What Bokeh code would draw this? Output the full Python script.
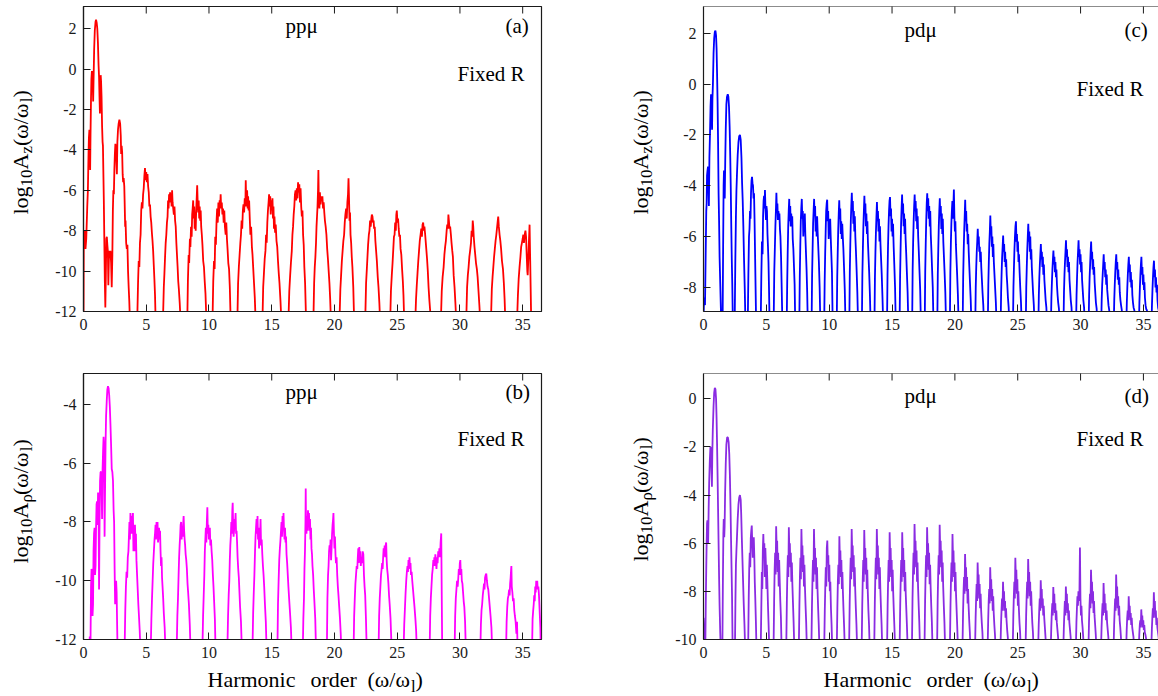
import math
from bokeh.plotting import figure
from bokeh.models import Range1d, FixedTicker, Label, Span, CustomJSTickFormatter
from bokeh.layouts import column, row
from bokeh.embed import file_html
from bokeh.resources import INLINE

# ---------------- data ----------------
X_TICKS = [0, 5, 10, 15, 20, 25, 30, 35]
Y_TICKS_A = [2, 0, -2, -4, -6, -8, -10, -12]
Y_TICKS_B = [-4, -6, -8, -10, -12]
Y_TICKS_C = [2, 0, -2, -4, -6, -8]
Y_TICKS_D = [0, -2, -4, -6, -8, -10]

# (a) pp-mu, log10 A_z
pp_Az = [
    (0.00, -12.5), (0.02, -8.2), (0.1, -8.0), (0.16, -8.9), (0.22, -8.4), (0.3, -6.8), (0.35, -6.0), (0.4, -4.2),
    (0.43, -3.4), (0.47, -3.0), (0.5, -3.6), (0.53, -5.0), (0.56, -3.2), (0.6, -1.4), (0.63, -0.5), (0.67, -0.1),
    (0.7, -0.3), (0.74, -0.8), (0.77, -1.6), (0.8, -0.6), (0.85, 1.0), (0.9, 1.9), (0.96, 2.35), (1.0, 2.45),
    (1.05, 2.3), (1.1, 2.0), (1.15, 1.3), (1.2, 0.2), (1.24, -0.4), (1.28, -1.5), (1.31, -2.2), (1.34, -0.8),
    (1.37, -0.3), (1.4, -0.6), (1.44, -1.4), (1.48, -2.8), (1.52, -3.6), (1.55, -3.8), (1.58, -5.0), (1.62, -6.5),
    (1.66, -8.5), (1.7, -10.5), (1.74, -11.8), (1.78, -10.2), (1.82, -8.4), (1.86, -8.3), (1.9, -8.7), (1.94, -9.0),
    (1.98, -10.7), (2.02, -9.5), (2.06, -9.0), (2.1, -9.2), (2.15, -9.0), (2.2, -9.6), (2.25, -10.8), (2.3, -9.2),
    (2.34, -7.0), (2.38, -6.0), (2.42, -6.2), (2.46, -5.0), (2.5, -4.2), (2.54, -3.7), (2.58, -3.9), (2.62, -4.4),
    (2.66, -5.2), (2.7, -3.6), (2.75, -3.0), (2.8, -2.7), (2.86, -2.5), (2.92, -2.7), (2.97, -3.3), (3.0, -4.2),
    (3.04, -3.8), (3.08, -4.1), (3.12, -5.2), (3.16, -5.6), (3.2, -5.4), (3.25, -5.8), (3.28, -6.6), (3.32, -7.8),
    (3.35, -7.5), (3.4, -8.6), (3.45, -8.9), (3.5, -8.7), (3.55, -10.0), (3.6, -10.8), (3.65, -11.5), (3.7, -12.5),
    (4.0, -13.0), (4.25, -13.0),
    (4.28, -12.5), (4.35, -10.5), (4.4, -9.5), (4.45, -9.8), (4.5, -8.6), (4.55, -8.2), (4.6, -7.0), (4.65, -6.6),
    (4.7, -6.9), (4.75, -6.2), (4.8, -5.9), (4.85, -5.3), (4.9, -4.9), (4.95, -5.5), (5.0, -5.1), (5.05, -5.6),
    (5.1, -5.2), (5.15, -5.8), (5.2, -6.1), (5.25, -6.8), (5.3, -6.7), (5.35, -7.3), (5.4, -7.6), (5.45, -8.1),
    (5.5, -8.5), (5.55, -9.0), (5.6, -9.7), (5.65, -10.4), (5.7, -11.2), (5.75, -12.5), (6.0, -13.0), (6.3, -13.0),
    (6.33, -12.5), (6.4, -10.8), (6.45, -10.1), (6.5, -9.3), (6.55, -8.6), (6.6, -8.2), (6.65, -7.6), (6.7, -7.3),
    (6.74, -6.5), (6.78, -6.9), (6.82, -6.2), (6.86, -6.6), (6.9, -6.1), (6.94, -6.5), (6.98, -6.2), (7.02, -6.8),
    (7.06, -6.0), (7.1, -6.6), (7.15, -6.9), (7.2, -7.2), (7.25, -6.8), (7.3, -7.5), (7.35, -7.8), (7.4, -8.6),
    (7.45, -9.2), (7.5, -9.8), (7.55, -10.5), (7.6, -10.9), (7.67, -11.6), (7.74, -12.5), (8.0, -13.0), (8.25, -13.0),
    (8.27, -12.5), (8.32, -10.5), (8.38, -9.2), (8.42, -9.6), (8.48, -8.4), (8.52, -8.8), (8.57, -7.8), (8.62, -8.3),
    (8.66, -7.2), (8.7, -6.9), (8.74, -6.5), (8.78, -7.4), (8.82, -6.8), (8.86, -7.9), (8.9, -7.2), (8.94, -8.0),
    (8.98, -7.0), (9.02, -6.4), (9.06, -5.75), (9.1, -6.6), (9.14, -7.1), (9.18, -6.5), (9.22, -7.4), (9.26, -6.8),
    (9.3, -7.5), (9.34, -7.0), (9.38, -7.8), (9.43, -8.2), (9.48, -8.7), (9.54, -9.5), (9.6, -9.8), (9.66, -10.5),
    (9.72, -11.1), (9.8, -12.5), (10.0, -13.0), (10.25, -13.0),
    (10.28, -12.5), (10.34, -10.5), (10.4, -9.5), (10.45, -9.9), (10.5, -8.3), (10.55, -8.7), (10.6, -7.6),
    (10.65, -6.9), (10.7, -7.6), (10.75, -6.6), (10.8, -7.3), (10.85, -6.5), (10.9, -6.7), (10.93, -6.2),
    (10.97, -6.9), (11.02, -6.6), (11.07, -7.2), (11.12, -6.9), (11.17, -7.6), (11.22, -7.0), (11.27, -7.8),
    (11.33, -8.2), (11.38, -7.6), (11.43, -8.4), (11.48, -8.9), (11.54, -9.6), (11.6, -9.9), (11.66, -10.8),
    (11.73, -12.5), (12.0, -13.0), (12.24, -13.0),
    (12.26, -12.5), (12.32, -10.6), (12.38, -9.8), (12.44, -9.2), (12.5, -8.6), (12.55, -8.2), (12.6, -7.5),
    (12.65, -7.9), (12.7, -7.0), (12.75, -6.7), (12.8, -7.1), (12.85, -6.4), (12.9, -6.8), (12.93, -5.5),
    (12.96, -6.4), (13.0, -6.8), (13.04, -6.0), (13.08, -6.9), (13.12, -6.3), (13.16, -7.0), (13.2, -6.5),
    (13.25, -7.4), (13.3, -8.2), (13.36, -7.8), (13.42, -8.8), (13.47, -9.2), (13.53, -9.9), (13.59, -10.6),
    (13.65, -11.3), (13.72, -12.5), (14.0, -13.0), (14.24, -13.0),
    (14.26, -12.5), (14.32, -10.8), (14.38, -10.1), (14.44, -9.4), (14.5, -9.0), (14.55, -8.2), (14.6, -8.6),
    (14.65, -7.6), (14.7, -7.0), (14.75, -6.6), (14.79, -6.2), (14.83, -6.8), (14.88, -6.3), (14.92, -7.2),
    (14.97, -6.5), (15.02, -7.0), (15.06, -6.4), (15.1, -7.4), (15.14, -6.8), (15.18, -7.9), (15.22, -7.3),
    (15.27, -8.1), (15.32, -7.7), (15.38, -8.5), (15.44, -8.8), (15.5, -9.5), (15.56, -10.1), (15.62, -10.6),
    (15.7, -11.5), (15.77, -12.5), (16.0, -13.0), (16.3, -13.0),
    (16.33, -12.5), (16.4, -11.0), (16.47, -10.2), (16.53, -9.6), (16.6, -9.0), (16.65, -8.2), (16.7, -7.8),
    (16.75, -7.2), (16.8, -6.8), (16.85, -6.2), (16.9, -6.0), (16.95, -6.5), (17.0, -5.9), (17.05, -6.4),
    (17.1, -5.6), (17.15, -6.1), (17.2, -5.7), (17.25, -6.6), (17.3, -5.9), (17.35, -6.8), (17.4, -7.3),
    (17.45, -7.0), (17.5, -8.2), (17.55, -8.7), (17.6, -9.8), (17.66, -10.6), (17.74, -12.5), (18.0, -13.0),
    (18.3, -13.0),
    (18.32, -12.5), (18.38, -10.6), (18.43, -9.8), (18.48, -9.3), (18.53, -8.6), (18.57, -7.8), (18.61, -7.3),
    (18.65, -6.8), (18.69, -6.0), (18.72, -5.0), (18.75, -6.4), (18.8, -6.9), (18.84, -6.1), (18.89, -6.7),
    (18.94, -6.3), (18.99, -6.5), (19.04, -6.3), (19.09, -6.9), (19.14, -6.6), (19.19, -7.1), (19.24, -7.5),
    (19.3, -7.8), (19.36, -8.2), (19.42, -8.9), (19.48, -9.4), (19.54, -10.0), (19.6, -10.6), (19.66, -11.4),
    (19.72, -12.5), (20.0, -13.0), (20.38, -13.0),
    (20.4, -12.5), (20.47, -10.9), (20.53, -10.2), (20.59, -9.5), (20.65, -9.0), (20.71, -8.5), (20.77, -8.2),
    (20.82, -7.6), (20.87, -7.2), (20.93, -6.9), (20.98, -7.4), (21.03, -6.6), (21.08, -6.2), (21.12, -5.4),
    (21.16, -6.4), (21.2, -7.5), (21.24, -7.1), (21.28, -8.2), (21.33, -8.6), (21.38, -9.3), (21.43, -9.8),
    (21.5, -10.8), (21.57, -12.5), (22.0, -13.0), (22.43, -13.0),
    (22.45, -12.5), (22.52, -10.6), (22.58, -9.9), (22.63, -9.3), (22.68, -8.7), (22.74, -8.2), (22.79, -8.0),
    (22.84, -7.5), (22.89, -7.8), (22.94, -7.4), (22.98, -7.2), (23.03, -7.3), (23.08, -7.6), (23.12, -7.5),
    (23.16, -7.9), (23.21, -7.8), (23.26, -8.5), (23.32, -9.0), (23.38, -9.5), (23.45, -10.3), (23.51, -10.8),
    (23.58, -11.6), (23.64, -12.5), (24.0, -13.0), (24.42, -13.0),
    (24.44, -12.5), (24.5, -11.0), (24.57, -10.2), (24.63, -9.6), (24.69, -8.9), (24.74, -8.3), (24.79, -8.2),
    (24.84, -7.6), (24.89, -8.0), (24.93, -7.2), (24.97, -7.0), (25.02, -7.6), (25.07, -7.4), (25.12, -7.9),
    (25.17, -8.3), (25.22, -8.2), (25.27, -8.9), (25.33, -9.2), (25.39, -9.9), (25.45, -10.5), (25.5, -11.2),
    (25.56, -12.5), (26.0, -13.0), (26.42, -13.0),
    (26.44, -12.5), (26.5, -11.4), (26.56, -10.7), (26.62, -10.1), (26.68, -9.5), (26.74, -9.0), (26.8, -8.5),
    (26.86, -8.2), (26.92, -7.9), (26.97, -8.3), (27.02, -7.7), (27.07, -7.6), (27.12, -8.0), (27.17, -7.8),
    (27.23, -8.2), (27.28, -8.6), (27.33, -9.0), (27.38, -9.4), (27.44, -10.0), (27.5, -10.8), (27.56, -11.4),
    (27.62, -11.9), (27.69, -12.5), (28.0, -13.0), (28.46, -13.0),
    (28.48, -12.5), (28.55, -11.0), (28.62, -10.3), (28.7, -9.8), (28.76, -9.2), (28.82, -8.8), (28.88, -8.5),
    (28.94, -8.0), (28.99, -7.7), (29.04, -7.9), (29.08, -7.2), (29.12, -7.5), (29.17, -7.9), (29.22, -7.8),
    (29.28, -8.2), (29.33, -8.6), (29.39, -9.0), (29.44, -9.3), (29.5, -10.2), (29.57, -10.8), (29.64, -11.6),
    (29.71, -12.5), (30.0, -13.0), (30.48, -13.0),
    (30.5, -12.5), (30.57, -10.8), (30.63, -10.2), (30.69, -9.8), (30.75, -9.3), (30.81, -9.0), (30.88, -8.6),
    (30.93, -8.0), (30.98, -8.3), (31.02, -7.5), (31.06, -7.8), (31.1, -8.3), (31.16, -8.8), (31.22, -9.2),
    (31.28, -9.6), (31.35, -9.9), (31.41, -10.3), (31.48, -11.0), (31.55, -11.7), (31.62, -12.5), (32.0, -13.0),
    (32.45, -13.0),
    (32.47, -12.5), (32.54, -10.9), (32.6, -10.3), (32.66, -9.8), (32.72, -9.3), (32.78, -8.9), (32.84, -8.5),
    (32.9, -8.2), (32.95, -7.9), (33.0, -7.6), (33.05, -7.3), (33.1, -7.8), (33.16, -8.2), (33.22, -8.5),
    (33.28, -8.9), (33.35, -9.5), (33.43, -9.9), (33.5, -10.6), (33.56, -11.4), (33.62, -12.5), (34.0, -13.0),
    (34.53, -13.0),
    (34.55, -12.5), (34.62, -11.2), (34.68, -10.4), (34.75, -9.8), (34.82, -9.3), (34.88, -8.8), (34.94, -8.6),
    (35.0, -8.4), (35.05, -8.2), (35.1, -8.6), (35.16, -8.2), (35.22, -8.0), (35.27, -8.3), (35.32, -9.2),
    (35.37, -10.0), (35.4, -10.2), (35.45, -9.4), (35.5, -8.5), (35.55, -7.7), (35.6, -9.5), (35.64, -11.0),
    (35.68, -12.5), (36.0, -13.0), (36.5, -13.0),
]

# (b) pp-mu, log10 A_rho
pp_Arho = [
    (0.0, -13.0), (0.4, -13.0), (0.5, -11.9), (0.55, -12.5), (0.6, -10.2), (0.64, -9.6), (0.68, -9.7),
    (0.72, -11.2), (0.76, -10.8), (0.8, -9.0), (0.84, -8.4), (0.88, -8.2), (0.92, -9.8), (0.96, -9.5),
    (1.0, -8.2), (1.04, -7.4), (1.08, -7.3), (1.12, -8.1), (1.16, -7.0), (1.2, -7.4), (1.24, -10.3),
    (1.28, -8.0), (1.32, -6.6), (1.36, -6.3), (1.4, -6.3), (1.44, -6.8), (1.48, -7.9), (1.52, -6.2),
    (1.56, -5.6), (1.6, -5.1), (1.64, -5.5), (1.68, -8.5), (1.72, -6.8), (1.76, -5.3), (1.8, -4.4),
    (1.85, -3.9), (1.9, -3.5), (1.95, -3.38), (2.0, -3.45), (2.05, -3.7), (2.1, -4.1), (2.15, -4.7),
    (2.2, -5.4), (2.25, -6.2), (2.3, -6.3), (2.35, -6.6), (2.4, -7.6), (2.44, -8.0), (2.48, -9.6),
    (2.52, -10.8), (2.56, -10.6), (2.6, -10.0), (2.64, -10.4), (2.68, -11.5), (2.72, -12.5), (3.0, -13.0),
    (3.25, -13.0),
    (3.27, -12.5), (3.33, -11.0), (3.38, -10.2), (3.43, -9.7), (3.48, -9.9), (3.53, -9.2), (3.58, -9.0),
    (3.62, -8.5), (3.66, -8.0), (3.7, -8.6), (3.74, -7.7), (3.78, -7.9), (3.82, -8.4), (3.86, -7.8),
    (3.9, -8.2), (3.94, -7.7), (3.98, -9.0), (4.02, -8.4), (4.06, -9.0), (4.1, -8.1), (4.14, -8.6),
    (4.18, -8.4), (4.22, -9.3), (4.27, -9.8), (4.32, -10.3), (4.37, -10.8), (4.42, -11.2), (4.48, -11.7),
    (4.55, -12.5), (5.0, -13.0), (5.33, -13.0),
    (5.35, -12.5), (5.41, -11.3), (5.46, -10.6), (5.51, -10.0), (5.56, -9.4), (5.61, -9.0), (5.66, -8.6),
    (5.7, -8.4), (5.74, -8.1), (5.78, -8.6), (5.82, -8.0), (5.86, -8.5), (5.9, -8.0), (5.94, -8.7),
    (5.98, -8.5), (6.02, -8.2), (6.06, -8.6), (6.1, -8.3), (6.14, -9.0), (6.18, -9.5), (6.22, -9.2),
    (6.26, -9.9), (6.3, -10.2), (6.35, -10.6), (6.4, -11.1), (6.47, -11.6), (6.54, -12.5), (7.0, -13.0),
    (7.4, -13.0),
    (7.42, -12.5), (7.48, -11.2), (7.53, -10.6), (7.58, -9.8), (7.62, -9.2), (7.66, -8.8), (7.7, -8.5),
    (7.74, -8.1), (7.78, -8.0), (7.82, -8.6), (7.86, -8.2), (7.9, -8.5), (7.94, -8.1), (7.98, -7.8),
    (8.02, -8.3), (8.06, -8.6), (8.1, -8.8), (8.14, -9.1), (8.19, -9.3), (8.24, -9.6), (8.29, -10.1),
    (8.34, -10.4), (8.4, -10.8), (8.47, -11.5), (8.54, -12.5), (9.0, -13.0), (9.45, -13.0),
    (9.47, -12.5), (9.53, -11.2), (9.58, -10.5), (9.63, -9.8), (9.67, -9.0), (9.71, -8.6), (9.75, -8.2),
    (9.79, -8.7), (9.83, -8.0), (9.87, -7.5), (9.91, -8.4), (9.95, -8.1), (9.99, -8.6), (10.03, -8.3),
    (10.07, -8.2), (10.11, -8.8), (10.16, -8.6), (10.21, -9.0), (10.26, -9.3), (10.31, -9.8), (10.36, -10.2),
    (10.41, -10.7), (10.47, -11.3), (10.53, -12.5), (11.0, -13.0), (11.44, -13.0),
    (11.46, -12.5), (11.52, -11.2), (11.57, -10.5), (11.62, -10.0), (11.66, -9.3), (11.7, -8.8), (11.74, -8.5),
    (11.78, -8.0), (11.82, -8.4), (11.86, -7.6), (11.89, -7.35), (11.92, -8.0), (11.96, -8.5), (12.0, -8.3),
    (12.04, -7.9), (12.08, -8.1), (12.12, -7.7), (12.16, -8.4), (12.2, -8.3), (12.24, -8.7), (12.28, -9.2),
    (12.33, -9.6), (12.38, -9.9), (12.43, -10.4), (12.48, -10.9), (12.55, -11.4), (12.63, -12.5), (13.0, -13.0),
    (13.44, -13.0),
    (13.46, -12.5), (13.52, -11.1), (13.57, -10.4), (13.62, -9.8), (13.67, -9.0), (13.71, -8.5), (13.75, -8.2),
    (13.79, -7.9), (13.83, -8.4), (13.87, -7.8), (13.91, -8.6), (13.95, -8.3), (13.99, -8.9), (14.03, -8.2),
    (14.07, -8.5), (14.11, -7.9), (14.15, -8.8), (14.2, -8.6), (14.25, -9.1), (14.3, -9.5), (14.35, -9.8),
    (14.4, -10.2), (14.46, -10.8), (14.53, -11.4), (14.6, -12.5), (15.0, -13.0), (15.43, -13.0),
    (15.45, -12.5), (15.5, -10.8), (15.55, -10.0), (15.6, -9.3), (15.65, -8.9), (15.7, -8.6), (15.74, -8.3),
    (15.78, -8.0), (15.82, -8.5), (15.86, -7.8), (15.9, -8.2), (15.94, -7.7), (15.98, -8.3), (16.02, -8.6),
    (16.06, -8.2), (16.1, -8.7), (16.14, -8.5), (16.18, -9.1), (16.23, -9.4), (16.28, -9.8), (16.33, -10.2),
    (16.4, -10.7), (16.46, -11.1), (16.53, -11.6), (16.6, -12.5), (17.0, -13.0), (17.45, -13.0),
    (17.47, -12.5), (17.52, -11.3), (17.57, -10.6), (17.61, -9.6), (17.65, -9.0), (17.69, -8.0), (17.71, -6.86),
    (17.73, -7.9), (17.77, -8.4), (17.81, -7.8), (17.85, -8.3), (17.89, -7.6), (17.93, -8.0), (17.97, -7.7),
    (18.01, -8.3), (18.05, -7.9), (18.09, -8.6), (18.13, -8.2), (18.17, -8.9), (18.21, -9.1), (18.25, -9.5),
    (18.3, -9.8), (18.35, -10.3), (18.4, -10.7), (18.47, -11.3), (18.54, -12.5), (19.0, -13.0), (19.37, -13.0),
    (19.39, -12.5), (19.44, -10.6), (19.49, -9.8), (19.53, -9.5), (19.57, -9.0), (19.61, -8.8), (19.65, -9.0),
    (19.69, -8.6), (19.73, -9.3), (19.77, -8.9), (19.81, -8.4), (19.85, -8.1), (19.89, -7.9), (19.92, -7.7),
    (19.96, -8.4), (20.0, -8.9), (20.04, -8.5), (20.08, -9.1), (20.12, -9.4), (20.17, -9.2), (20.22, -9.8),
    (20.27, -10.2), (20.32, -10.5), (20.38, -10.9), (20.44, -11.3), (20.5, -11.8), (20.56, -12.5), (21.0, -13.0),
    (21.5, -13.0),
    (21.52, -12.5), (21.57, -11.2), (21.62, -10.6), (21.67, -10.1), (21.72, -9.8), (21.77, -9.5), (21.82, -9.6),
    (21.86, -9.2), (21.9, -8.9), (21.94, -9.4), (21.98, -8.85), (22.02, -9.3), (22.06, -9.0), (22.1, -9.5),
    (22.15, -9.2), (22.2, -9.4), (22.25, -9.0), (22.3, -9.1), (22.35, -9.8), (22.4, -10.2), (22.45, -10.5),
    (22.51, -11.3), (22.58, -12.5), (23.0, -13.0), (23.49, -13.0),
    (23.51, -12.5), (23.56, -11.2), (23.61, -10.6), (23.66, -10.2), (23.71, -9.8), (23.76, -9.6), (23.8, -9.4),
    (23.84, -9.6), (23.88, -9.2), (23.92, -8.9), (23.96, -9.1), (24.0, -8.8), (24.04, -9.2), (24.08, -8.8),
    (24.12, -8.7), (24.16, -9.3), (24.2, -9.6), (24.25, -9.8), (24.3, -10.1), (24.35, -10.5), (24.4, -10.8),
    (24.47, -11.3), (24.57, -12.5), (25.0, -13.0), (25.48, -13.0),
    (25.5, -12.5), (25.56, -11.5), (25.62, -10.9), (25.67, -10.4), (25.72, -10.0), (25.77, -9.7), (25.82, -9.5),
    (25.86, -9.7), (25.9, -9.3), (25.94, -9.5), (25.98, -9.2), (26.02, -9.6), (26.06, -9.4), (26.1, -9.8),
    (26.15, -9.7), (26.2, -10.0), (26.26, -10.3), (26.32, -10.6), (26.38, -10.9), (26.45, -11.3), (26.51, -11.7),
    (26.57, -12.5), (27.0, -13.0), (27.56, -13.0),
    (27.58, -12.5), (27.63, -11.2), (27.68, -10.6), (27.73, -10.2), (27.78, -9.8), (27.83, -9.6), (27.88, -9.3),
    (27.92, -9.5), (27.96, -9.2), (28.0, -9.5), (28.04, -9.1), (28.08, -9.3), (28.13, -9.6), (28.18, -9.2),
    (28.22, -9.4), (28.27, -9.0), (28.32, -9.2), (28.36, -8.9), (28.41, -9.2), (28.46, -8.7), (28.51, -8.39),
    (28.55, -10.5), (28.59, -12.5), (29.0, -13.0), (29.55, -13.0),
    (29.57, -12.5), (29.62, -11.2), (29.67, -10.6), (29.72, -10.3), (29.77, -10.0), (29.82, -10.2), (29.87, -9.9),
    (29.91, -9.6), (29.95, -9.8), (29.99, -9.4), (30.03, -9.3), (30.07, -9.8), (30.11, -9.6), (30.15, -10.0),
    (30.2, -10.1), (30.25, -10.4), (30.3, -10.7), (30.35, -10.9), (30.41, -11.4), (30.48, -12.5), (31.0, -13.0),
    (31.6, -13.0),
    (31.62, -12.5), (31.67, -11.5), (31.72, -11.0), (31.77, -10.8), (31.82, -10.5), (31.87, -10.3), (31.92, -10.1),
    (31.96, -10.3), (32.0, -9.9), (32.05, -9.8), (32.1, -9.76), (32.15, -10.0), (32.2, -10.2), (32.26, -10.3),
    (32.32, -10.6), (32.38, -10.9), (32.44, -11.2), (32.51, -11.6), (32.58, -12.5), (33.0, -13.0), (33.65, -13.0),
    (33.67, -12.5), (33.72, -11.4), (33.77, -10.9), (33.82, -10.6), (33.87, -10.5), (33.92, -10.3), (33.96, -10.5),
    (34.0, -10.1), (34.04, -9.9), (34.08, -9.6), (34.1, -9.5), (34.13, -10.2), (34.18, -10.4), (34.23, -10.7),
    (34.28, -10.6), (34.33, -11.0), (34.38, -11.2), (34.44, -11.4), (34.5, -11.8), (34.55, -11.4), (34.6, -12.5),
    (35.0, -13.0), (35.72, -13.0),
    (35.74, -12.5), (35.79, -11.3), (35.84, -11.0), (35.88, -10.8), (35.92, -10.5), (35.96, -10.7), (36.0, -10.2),
    (36.04, -10.4), (36.08, -10.0), (36.12, -10.2), (36.16, -10.0), (36.2, -10.3), (36.25, -10.2), (36.3, -10.5),
    (36.35, -11.0), (36.41, -11.6), (36.45, -12.5),
]

# (c) pd-mu, log10 A_z
pd_Az = [
    (0.0, -9.5), (0.03, -8.6), (0.08, -8.4), (0.12, -8.7), (0.17, -6.8), (0.22, -5.0), (0.25, -4.7), (0.28, -3.6),
    (0.32, -3.4), (0.36, -3.25), (0.4, -4.2), (0.43, -4.8), (0.47, -2.9), (0.52, -1.9), (0.56, -0.9), (0.6, -0.4),
    (0.64, -0.9), (0.68, -1.8), (0.71, -0.6), (0.75, 0.0), (0.8, 1.2), (0.85, 1.8), (0.9, 2.05), (0.95, 2.1),
    (1.0, 1.9), (1.04, 1.4), (1.08, 0.4), (1.12, -0.7), (1.16, -2.3), (1.2, -4.3), (1.24, -5.4), (1.28, -6.8),
    (1.32, -7.6), (1.37, -8.6), (1.42, -9.5),
    (1.52, -9.5), (1.56, -6.5), (1.6, -4.0), (1.63, -3.4), (1.66, -4.4), (1.69, -4.5), (1.73, -3.0), (1.77, -1.8),
    (1.82, -0.8), (1.87, -0.5), (1.93, -0.4), (1.98, -0.5), (2.03, -0.9), (2.08, -1.7), (2.13, -2.9), (2.17, -4.1),
    (2.21, -5.6), (2.25, -6.9), (2.29, -7.9), (2.34, -9.5),
    (2.48, -9.5), (2.53, -7.0), (2.58, -5.2), (2.62, -4.2), (2.66, -3.6), (2.72, -2.8), (2.78, -2.3), (2.84, -2.05),
    (2.9, -2.0), (2.96, -2.2), (3.02, -2.9), (3.07, -3.9), (3.12, -4.6), (3.17, -5.6), (3.22, -6.8), (3.28, -8.0),
    (3.34, -9.5),
    (3.52, -9.5), (3.57, -7.5), (3.62, -6.0), (3.66, -5.7), (3.7, -5.0), (3.74, -5.3), (3.78, -4.3), (3.82, -3.8),
    (3.86, -3.65), (3.9, -3.9), (3.94, -4.0), (3.98, -4.5), (4.02, -4.3), (4.06, -5.3), (4.1, -6.6), (4.14, -7.9),
    (4.19, -9.5),
    (4.55, -9.5), (4.6, -7.6), (4.65, -6.2), (4.7, -6.7), (4.74, -5.2), (4.78, -4.6), (4.82, -4.4), (4.86, -4.9),
    (4.89, -4.17), (4.93, -4.9), (4.97, -5.35), (5.01, -4.8), (5.05, -5.0), (5.09, -5.9), (5.13, -6.4), (5.17, -7.0),
    (5.21, -8.0), (5.26, -9.5),
    (5.58, -9.5), (5.63, -7.4), (5.68, -6.4), (5.72, -5.6), (5.76, -5.0), (5.8, -4.28), (5.84, -5.0), (5.88, -4.7),
    (5.92, -5.35), (5.96, -5.0), (6.0, -5.2), (6.04, -5.1), (6.08, -5.7), (6.12, -6.0), (6.17, -6.8), (6.22, -8.0),
    (6.28, -9.5),
    (6.62, -9.5), (6.66, -7.8), (6.7, -6.6), (6.74, -5.6), (6.78, -5.0), (6.82, -4.52), (6.86, -5.4), (6.9, -4.8),
    (6.94, -5.6), (6.98, -5.1), (7.02, -5.5), (7.06, -5.2), (7.1, -6.1), (7.15, -6.5), (7.2, -7.2), (7.25, -7.9),
    (7.3, -9.5),
    (7.62, -9.5), (7.66, -7.6), (7.7, -6.4), (7.74, -5.4), (7.78, -4.9), (7.82, -4.52), (7.86, -5.3), (7.9, -5.0),
    (7.94, -6.0), (7.98, -5.3), (8.02, -5.8), (8.06, -5.1), (8.1, -5.9), (8.15, -6.6), (8.2, -7.3), (8.25, -8.2),
    (8.3, -9.5),
    (8.6, -9.5), (8.64, -7.5), (8.68, -6.5), (8.72, -5.5), (8.76, -5.0), (8.8, -4.52), (8.84, -5.2), (8.88, -4.8),
    (8.92, -5.8), (8.96, -5.3), (9.0, -6.0), (9.04, -5.2), (9.08, -5.8), (9.13, -6.4), (9.18, -7.0), (9.24, -8.0),
    (9.3, -9.5),
    (9.6, -9.5), (9.64, -7.8), (9.68, -6.7), (9.72, -5.8), (9.76, -5.0), (9.8, -4.7), (9.84, -4.55), (9.88, -5.4),
    (9.92, -5.0), (9.96, -6.1), (10.0, -5.4), (10.04, -5.9), (10.08, -5.3), (10.12, -6.0), (10.17, -6.7),
    (10.22, -7.4), (10.28, -9.5),
    (10.6, -9.5), (10.64, -7.6), (10.68, -6.6), (10.72, -5.7), (10.76, -5.1), (10.8, -4.57), (10.84, -5.3),
    (10.88, -4.9), (10.92, -5.9), (10.96, -5.4), (11.0, -6.1), (11.04, -5.5), (11.08, -6.0), (11.13, -6.5),
    (11.18, -7.2), (11.24, -8.1), (11.3, -9.5),
    (11.6, -9.5), (11.64, -7.4), (11.68, -6.3), (11.72, -5.4), (11.76, -4.8), (11.8, -4.28), (11.84, -5.0),
    (11.88, -4.6), (11.92, -5.5), (11.96, -5.0), (12.0, -5.8), (12.04, -5.2), (12.08, -6.0), (12.13, -6.6),
    (12.18, -7.3), (12.24, -8.2), (12.3, -9.5),
    (12.6, -9.5), (12.64, -7.5), (12.68, -6.5), (12.72, -5.6), (12.76, -5.0), (12.8, -4.4), (12.84, -5.1),
    (12.88, -4.7), (12.92, -5.6), (12.96, -5.1), (13.0, -5.9), (13.04, -5.4), (13.08, -6.2), (13.13, -6.8),
    (13.18, -7.4), (13.24, -8.3), (13.3, -9.5),
    (13.6, -9.5), (13.64, -7.6), (13.68, -6.6), (13.72, -5.8), (13.76, -5.2), (13.8, -4.64), (13.84, -5.4),
    (13.88, -5.0), (13.92, -5.8), (13.96, -5.3), (14.0, -6.2), (14.04, -5.6), (14.08, -6.3), (14.13, -6.9),
    (14.18, -7.5), (14.24, -8.4), (14.3, -9.5),
    (14.6, -9.5), (14.64, -7.5), (14.68, -6.4), (14.72, -5.6), (14.76, -5.0), (14.8, -4.6), (14.84, -4.45),
    (14.88, -5.2), (14.92, -4.9), (14.96, -5.8), (15.0, -5.3), (15.04, -6.0), (15.08, -5.5), (15.13, -6.4),
    (15.18, -7.1), (15.24, -8.0), (15.3, -9.5),
    (15.6, -9.5), (15.64, -7.6), (15.68, -6.5), (15.72, -5.5), (15.76, -4.9), (15.8, -4.35), (15.84, -5.1),
    (15.88, -4.7), (15.92, -5.6), (15.96, -5.1), (16.0, -5.9), (16.04, -5.3), (16.08, -6.1), (16.13, -6.7),
    (16.18, -7.4), (16.24, -8.2), (16.3, -9.5),
    (16.6, -9.5), (16.64, -7.3), (16.68, -6.2), (16.72, -5.4), (16.76, -4.8), (16.8, -4.35), (16.84, -5.0),
    (16.88, -4.6), (16.92, -5.4), (16.96, -4.9), (17.0, -5.7), (17.04, -5.2), (17.08, -6.0), (17.13, -6.6),
    (17.18, -7.3), (17.24, -8.1), (17.3, -9.5),
    (17.6, -9.5), (17.64, -7.4), (17.68, -6.3), (17.72, -5.4), (17.76, -4.7), (17.8, -4.3), (17.84, -5.0),
    (17.88, -4.5), (17.92, -5.3), (17.96, -4.8), (18.0, -5.6), (18.04, -5.0), (18.08, -5.9), (18.13, -6.5),
    (18.18, -7.2), (18.24, -8.0), (18.3, -9.5),
    (18.6, -9.5), (18.64, -7.5), (18.68, -6.5), (18.72, -5.6), (18.76, -5.0), (18.8, -4.5), (18.84, -5.2),
    (18.88, -4.8), (18.92, -5.7), (18.96, -5.1), (19.0, -5.9), (19.04, -5.3), (19.08, -6.2), (19.13, -6.8),
    (19.18, -7.4), (19.24, -8.2), (19.3, -9.5),
    (19.6, -9.5), (19.64, -7.4), (19.68, -6.3), (19.72, -5.5), (19.76, -5.0), (19.8, -4.6), (19.84, -5.3),
    (19.88, -4.8), (19.92, -4.15), (19.96, -5.2), (20.0, -5.8), (20.04, -5.4), (20.08, -6.3), (20.13, -6.9),
    (20.18, -7.5), (20.24, -8.3), (20.3, -9.5),
    (20.62, -9.5), (20.66, -7.6), (20.7, -6.6), (20.74, -5.8), (20.78, -5.2), (20.82, -4.55), (20.86, -5.4),
    (20.9, -5.0), (20.94, -5.8), (20.98, -5.5), (21.02, -6.3), (21.06, -5.9), (21.1, -6.6), (21.15, -7.2),
    (21.2, -7.8), (21.26, -8.5), (21.32, -9.5),
    (21.62, -9.5), (21.66, -8.0), (21.7, -7.2), (21.74, -6.6), (21.78, -6.2), (21.82, -5.7), (21.86, -6.3),
    (21.9, -6.0), (21.94, -6.6), (21.98, -6.4), (22.02, -7.0), (22.06, -6.6), (22.1, -7.2), (22.15, -7.7),
    (22.2, -8.2), (22.26, -8.7), (22.32, -9.5),
    (22.62, -9.5), (22.66, -7.9), (22.7, -7.0), (22.74, -6.3), (22.78, -5.8), (22.82, -5.17), (22.86, -5.9),
    (22.9, -5.6), (22.94, -6.4), (22.98, -6.0), (23.02, -6.8), (23.06, -6.3), (23.1, -7.0), (23.15, -7.5),
    (23.2, -8.0), (23.26, -8.6), (23.32, -9.5),
    (23.64, -9.5), (23.68, -8.2), (23.72, -7.4), (23.76, -6.8), (23.8, -6.4), (23.84, -5.96), (23.88, -6.6),
    (23.92, -6.3), (23.96, -7.0), (24.0, -6.6), (24.04, -7.2), (24.08, -6.9), (24.12, -7.5), (24.17, -7.9),
    (24.22, -8.4), (24.28, -8.8), (24.34, -9.5),
    (24.62, -9.5), (24.66, -8.0), (24.7, -7.2), (24.74, -6.5), (24.78, -6.0), (24.82, -5.6), (24.86, -5.4),
    (24.9, -6.2), (24.94, -5.9), (24.98, -6.6), (25.02, -6.2), (25.06, -7.0), (25.1, -6.7), (25.15, -7.4),
    (25.2, -8.0), (25.26, -8.6), (25.32, -9.5),
    (25.64, -9.5), (25.68, -8.0), (25.72, -7.2), (25.76, -6.5), (25.8, -6.0), (25.84, -5.5), (25.88, -6.2),
    (25.92, -5.8), (25.96, -6.6), (26.0, -6.0), (26.04, -6.9), (26.08, -6.5), (26.12, -7.2), (26.17, -7.7),
    (26.22, -8.2), (26.28, -8.7), (26.34, -9.5),
    (26.64, -9.5), (26.68, -8.3), (26.72, -7.6), (26.76, -7.1), (26.8, -6.7), (26.84, -6.3), (26.88, -6.9),
    (26.92, -6.6), (26.96, -7.2), (27.0, -6.8), (27.04, -7.5), (27.08, -7.1), (27.12, -7.7), (27.17, -8.1),
    (27.22, -8.5), (27.28, -8.8), (27.34, -9.5),
    (27.64, -9.5), (27.68, -8.4), (27.72, -7.8), (27.76, -7.3), (27.8, -6.9), (27.84, -6.55), (27.88, -7.1),
    (27.92, -6.8), (27.96, -7.4), (28.0, -7.0), (28.04, -7.6), (28.08, -7.3), (28.12, -7.9), (28.17, -8.3),
    (28.22, -8.6), (28.28, -8.85), (28.34, -9.5),
    (28.64, -9.5), (28.68, -8.2), (28.72, -7.5), (28.76, -7.0), (28.8, -6.6), (28.84, -6.15), (28.88, -6.8),
    (28.92, -6.5), (28.96, -7.2), (29.0, -6.8), (29.04, -7.4), (29.08, -7.0), (29.12, -7.7), (29.17, -8.1),
    (29.22, -8.5), (29.28, -8.8), (29.34, -9.5),
    (29.64, -9.5), (29.68, -8.3), (29.72, -7.6), (29.76, -7.0), (29.8, -6.6), (29.84, -6.15), (29.88, -6.8),
    (29.92, -6.5), (29.96, -7.1), (30.0, -6.7), (30.04, -7.4), (30.08, -7.0), (30.12, -7.7), (30.17, -8.1),
    (30.22, -8.5), (30.28, -8.8), (30.34, -9.5),
    (30.64, -9.5), (30.68, -8.3), (30.72, -7.6), (30.76, -7.1), (30.8, -6.6), (30.84, -6.2), (30.88, -6.9),
    (30.92, -6.6), (30.96, -7.3), (31.0, -6.9), (31.04, -7.5), (31.08, -7.2), (31.12, -7.8), (31.17, -8.2),
    (31.22, -8.6), (31.28, -8.85), (31.34, -9.5),
    (31.64, -9.5), (31.68, -8.5), (31.72, -7.9), (31.76, -7.5), (31.8, -7.1), (31.84, -6.7), (31.88, -7.3),
    (31.92, -7.0), (31.96, -7.6), (32.0, -7.3), (32.04, -7.9), (32.08, -7.5), (32.12, -8.1), (32.17, -8.4),
    (32.22, -8.7), (32.28, -8.9), (32.34, -9.5),
    (32.64, -9.5), (32.68, -8.5), (32.72, -7.9), (32.76, -7.4), (32.8, -7.0), (32.84, -6.7), (32.88, -7.3),
    (32.92, -7.0), (32.96, -7.7), (33.0, -7.3), (33.04, -7.9), (33.08, -7.6), (33.12, -8.2), (33.17, -8.5),
    (33.22, -8.7), (33.28, -8.9), (33.34, -9.5),
    (33.64, -9.5), (33.68, -8.6), (33.72, -8.0), (33.76, -7.5), (33.8, -7.1), (33.84, -6.8), (33.88, -7.4),
    (33.92, -7.1), (33.96, -7.8), (34.0, -7.4), (34.04, -8.0), (34.08, -7.7), (34.12, -8.3), (34.17, -8.6),
    (34.22, -8.8), (34.28, -8.9), (34.34, -9.5),
    (34.64, -9.5), (34.68, -8.6), (34.72, -8.0), (34.76, -7.5), (34.8, -7.1), (34.84, -6.8), (34.88, -7.5),
    (34.92, -7.2), (34.96, -7.9), (35.0, -7.5), (35.04, -8.1), (35.08, -7.8), (35.12, -8.4), (35.17, -8.7),
    (35.22, -8.85), (35.28, -8.9), (35.34, -9.5),
    (35.64, -9.5), (35.68, -8.7), (35.72, -8.1), (35.76, -7.6), (35.8, -7.2), (35.84, -6.95), (35.88, -7.6),
    (35.92, -7.3), (35.96, -8.0), (36.0, -7.6), (36.04, -8.2), (36.08, -7.9), (36.12, -8.5), (36.17, -8.8),
    (36.22, -8.9), (36.3, -9.5),
]

# (d) pd-mu, log10 A_rho
pd_Arho = [
    (0.0, -9.1), (0.04, -9.6), (0.08, -10.5), (0.14, -10.5), (0.18, -8.6), (0.22, -7.0), (0.25, -6.0), (0.28, -5.2),
    (0.31, -5.05), (0.34, -5.6), (0.37, -6.0), (0.41, -4.6), (0.45, -3.5), (0.5, -2.6), (0.55, -2.0), (0.6, -2.1),
    (0.64, -3.0), (0.67, -3.65), (0.7, -2.3), (0.74, -1.3), (0.8, -0.3), (0.85, 0.25), (0.9, 0.45), (0.95, 0.4),
    (1.0, 0.0), (1.04, -0.8), (1.08, -1.9), (1.12, -3.2), (1.16, -4.6), (1.2, -6.0), (1.24, -7.4), (1.28, -8.6),
    (1.33, -9.7), (1.38, -10.5),
    (1.5, -10.5), (1.54, -7.8), (1.58, -5.6), (1.61, -5.0), (1.65, -5.75), (1.68, -5.3), (1.72, -3.9), (1.77, -2.7),
    (1.82, -1.9), (1.88, -1.6), (1.94, -1.6), (2.0, -1.8), (2.05, -2.3), (2.1, -3.2), (2.15, -4.5), (2.19, -5.8),
    (2.23, -7.0), (2.27, -8.2), (2.32, -10.5),
    (2.5, -10.5), (2.54, -8.4), (2.58, -6.9), (2.62, -6.3), (2.66, -5.8), (2.72, -5.0), (2.78, -4.4), (2.84, -4.1),
    (2.9, -4.0), (2.96, -4.2), (3.0, -4.8), (3.05, -5.8), (3.1, -6.7), (3.15, -7.6), (3.2, -8.5), (3.26, -9.4),
    (3.32, -10.5),
    (3.55, -10.5), (3.6, -8.2), (3.64, -7.0), (3.68, -6.4), (3.72, -7.0), (3.76, -5.8), (3.8, -5.5), (3.84, -5.27),
    (3.88, -6.0), (3.92, -6.6), (3.96, -5.9), (4.0, -5.75), (4.04, -6.5), (4.08, -7.6), (4.12, -8.3), (4.17, -9.3),
    (4.22, -10.5),
    (4.55, -10.5), (4.6, -8.7), (4.64, -7.2), (4.68, -7.9), (4.72, -6.3), (4.76, -5.62), (4.8, -6.5), (4.84, -6.0),
    (4.88, -7.4), (4.92, -6.2), (4.96, -6.8), (5.0, -7.9), (5.04, -6.9), (5.08, -7.6), (5.13, -8.6), (5.18, -9.4),
    (5.24, -10.5),
    (5.57, -10.5), (5.62, -8.4), (5.66, -7.1), (5.7, -6.4), (5.74, -7.3), (5.78, -5.3), (5.82, -6.2), (5.86, -5.9),
    (5.9, -7.2), (5.94, -6.4), (5.98, -7.8), (6.02, -6.7), (6.06, -7.5), (6.11, -8.4), (6.16, -9.1), (6.22, -10.5),
    (6.58, -10.5), (6.63, -8.5), (6.67, -7.3), (6.71, -6.5), (6.75, -7.4), (6.79, -5.34), (6.83, -6.3), (6.87, -6.0),
    (6.91, -7.0), (6.95, -6.4), (6.99, -7.6), (7.03, -6.8), (7.07, -7.7), (7.12, -8.5), (7.17, -9.3), (7.23, -10.5),
    (7.58, -10.5), (7.63, -8.6), (7.67, -7.4), (7.71, -6.6), (7.75, -7.5), (7.79, -5.41), (7.83, -6.4), (7.87, -6.1),
    (7.91, -7.2), (7.95, -6.5), (7.99, -7.8), (8.03, -6.9), (8.07, -7.8), (8.12, -8.6), (8.17, -9.3), (8.23, -10.5),
    (8.58, -10.5), (8.63, -8.6), (8.67, -7.5), (8.71, -6.7), (8.75, -7.6), (8.79, -5.41), (8.83, -6.5), (8.87, -6.2),
    (8.91, -7.3), (8.95, -6.6), (8.99, -7.9), (9.03, -7.0), (9.07, -7.9), (9.12, -8.7), (9.17, -9.4), (9.23, -10.5),
    (9.6, -10.5), (9.65, -8.8), (9.69, -7.8), (9.73, -7.0), (9.77, -7.8), (9.81, -6.2), (9.85, -5.89), (9.89, -6.8),
    (9.93, -6.5), (9.97, -7.6), (10.01, -6.9), (10.05, -8.0), (10.09, -7.6), (10.14, -8.7), (10.19, -9.4),
    (10.25, -10.5),
    (10.6, -10.5), (10.65, -8.7), (10.69, -7.6), (10.73, -6.9), (10.77, -7.7), (10.81, -5.71), (10.85, -6.7),
    (10.89, -6.3), (10.93, -7.4), (10.97, -6.7), (11.01, -7.9), (11.05, -7.2), (11.09, -8.0), (11.14, -8.8),
    (11.19, -9.5), (11.25, -10.5),
    (11.58, -10.5), (11.63, -8.5), (11.67, -7.4), (11.71, -6.6), (11.75, -7.5), (11.79, -5.41), (11.83, -6.4),
    (11.87, -6.1), (11.91, -7.2), (11.95, -6.5), (11.99, -7.8), (12.03, -7.0), (12.07, -7.9), (12.12, -8.7),
    (12.17, -9.4), (12.23, -10.5),
    (12.58, -10.5), (12.63, -8.6), (12.67, -7.5), (12.71, -6.7), (12.75, -7.6), (12.79, -5.45), (12.83, -6.5),
    (12.87, -6.2), (12.91, -7.3), (12.95, -6.6), (12.99, -7.9), (13.03, -7.1), (13.07, -8.0), (13.12, -8.8),
    (13.17, -9.4), (13.23, -10.5),
    (13.58, -10.5), (13.63, -8.5), (13.67, -7.4), (13.71, -6.6), (13.75, -7.5), (13.79, -5.41), (13.83, -6.4),
    (13.87, -6.1), (13.91, -7.3), (13.95, -6.6), (13.99, -7.9), (14.03, -7.0), (14.07, -7.9), (14.12, -8.7),
    (14.17, -9.4), (14.23, -10.5),
    (14.6, -10.5), (14.65, -8.6), (14.69, -7.5), (14.73, -6.7), (14.77, -7.6), (14.81, -5.55), (14.85, -6.5),
    (14.89, -6.2), (14.93, -7.4), (14.97, -6.7), (15.01, -8.0), (15.05, -7.1), (15.09, -8.0), (15.14, -8.8),
    (15.19, -9.5), (15.25, -10.5),
    (15.6, -10.5), (15.65, -8.6), (15.69, -7.5), (15.73, -6.7), (15.77, -7.6), (15.81, -5.55), (15.85, -6.5),
    (15.89, -6.2), (15.93, -7.4), (15.97, -6.7), (16.01, -8.0), (16.05, -7.2), (16.09, -8.1), (16.14, -8.8),
    (16.19, -9.5), (16.25, -10.5),
    (16.58, -10.5), (16.63, -8.3), (16.67, -7.2), (16.71, -6.4), (16.75, -7.3), (16.79, -5.2), (16.83, -6.2),
    (16.87, -5.9), (16.91, -7.0), (16.95, -6.3), (16.99, -7.6), (17.03, -6.8), (17.07, -7.8), (17.12, -8.6),
    (17.17, -9.3), (17.23, -10.5),
    (17.58, -10.5), (17.63, -8.4), (17.67, -7.3), (17.71, -6.5), (17.75, -7.4), (17.79, -5.34), (17.83, -6.3),
    (17.87, -6.0), (17.91, -7.1), (17.95, -6.4), (17.99, -7.7), (18.03, -6.9), (18.07, -7.8), (18.12, -8.6),
    (18.17, -9.3), (18.23, -10.5),
    (18.58, -10.5), (18.63, -8.4), (18.67, -7.3), (18.71, -6.5), (18.75, -7.3), (18.79, -5.23), (18.83, -6.2),
    (18.87, -5.9), (18.91, -7.0), (18.95, -6.3), (18.99, -7.6), (19.03, -6.8), (19.07, -7.8), (19.12, -8.6),
    (19.17, -9.3), (19.23, -10.5),
    (19.6, -10.5), (19.65, -8.6), (19.69, -7.5), (19.73, -6.8), (19.77, -7.6), (19.81, -5.62), (19.85, -6.6),
    (19.89, -6.3), (19.93, -7.4), (19.97, -6.8), (20.01, -8.0), (20.05, -7.2), (20.09, -8.1), (20.14, -8.8),
    (20.19, -9.5), (20.25, -10.5),
    (20.6, -10.5), (20.65, -8.9), (20.69, -8.0), (20.73, -7.4), (20.77, -8.1), (20.81, -6.45), (20.85, -7.3),
    (20.89, -7.0), (20.93, -8.0), (20.97, -7.4), (21.01, -8.5), (21.05, -7.9), (21.09, -8.6), (21.14, -9.2),
    (21.19, -9.7), (21.25, -10.5),
    (21.6, -10.5), (21.65, -9.1), (21.69, -8.3), (21.73, -7.7), (21.77, -8.4), (21.81, -6.8), (21.85, -7.6),
    (21.89, -7.3), (21.93, -8.3), (21.97, -7.7), (22.01, -8.7), (22.05, -8.1), (22.09, -8.8), (22.14, -9.3),
    (22.19, -9.7), (22.25, -10.5),
    (22.6, -10.5), (22.65, -9.2), (22.69, -8.4), (22.73, -7.9), (22.77, -8.5), (22.81, -7.0), (22.85, -7.8),
    (22.89, -7.5), (22.93, -8.4), (22.97, -7.9), (23.01, -8.8), (23.05, -8.2), (23.09, -8.9), (23.14, -9.4),
    (23.19, -9.8), (23.25, -10.5),
    (23.62, -10.5), (23.67, -9.4), (23.71, -8.8), (23.75, -8.3), (23.79, -8.8), (23.83, -7.6), (23.87, -8.3),
    (23.91, -8.0), (23.95, -8.8), (23.99, -8.4), (24.03, -9.1), (24.07, -8.7), (24.11, -9.2), (24.16, -9.6),
    (24.21, -9.9), (24.27, -10.5),
    (24.6, -10.5), (24.65, -9.0), (24.69, -8.2), (24.73, -7.6), (24.77, -8.3), (24.81, -6.6), (24.85, -7.4),
    (24.89, -7.1), (24.93, -8.1), (24.97, -7.5), (25.01, -8.6), (25.05, -8.0), (25.09, -8.7), (25.14, -9.3),
    (25.19, -9.7), (25.25, -10.5),
    (25.62, -10.5), (25.67, -9.0), (25.71, -8.2), (25.75, -7.6), (25.79, -8.3), (25.83, -6.66), (25.87, -7.5),
    (25.91, -7.2), (25.95, -8.2), (25.99, -7.6), (26.03, -8.6), (26.07, -8.0), (26.11, -8.7), (26.16, -9.3),
    (26.21, -9.7), (26.27, -10.5),
    (26.62, -10.5), (26.67, -9.4), (26.71, -8.8), (26.75, -8.3), (26.79, -8.8), (26.83, -7.54), (26.87, -8.2),
    (26.91, -7.9), (26.95, -8.7), (26.99, -8.3), (27.03, -9.0), (27.07, -8.6), (27.11, -9.1), (27.16, -9.5),
    (27.21, -9.9), (27.27, -10.5),
    (27.62, -10.5), (27.67, -9.5), (27.71, -8.9), (27.75, -8.5), (27.79, -9.0), (27.83, -7.82), (27.87, -8.4),
    (27.91, -8.1), (27.95, -8.9), (27.99, -8.5), (28.03, -9.2), (28.07, -8.8), (28.11, -9.3), (28.16, -9.6),
    (28.21, -9.9), (28.27, -10.5),
    (28.62, -10.5), (28.67, -9.5), (28.71, -8.9), (28.75, -8.4), (28.79, -9.0), (28.83, -7.8), (28.87, -8.4),
    (28.91, -8.1), (28.95, -8.9), (28.99, -8.5), (29.03, -9.2), (29.07, -8.8), (29.11, -9.3), (29.16, -9.6),
    (29.21, -9.9), (29.27, -10.5),
    (29.62, -10.5), (29.67, -9.3), (29.71, -8.7), (29.75, -8.2), (29.79, -8.6), (29.83, -8.0), (29.87, -8.4),
    (29.91, -8.1), (29.95, -6.18), (29.99, -8.3), (30.03, -9.0), (30.07, -8.6), (30.11, -9.2), (30.16, -9.5),
    (30.21, -9.9), (30.27, -10.5),
    (30.62, -10.5), (30.67, -9.3), (30.71, -8.6), (30.75, -8.1), (30.79, -8.7), (30.83, -7.1), (30.87, -7.9),
    (30.91, -7.6), (30.95, -8.5), (30.99, -8.0), (31.03, -8.9), (31.07, -8.4), (31.11, -9.0), (31.16, -9.4),
    (31.21, -9.8), (31.27, -10.5),
    (31.62, -10.5), (31.67, -9.5), (31.71, -8.9), (31.75, -8.5), (31.79, -9.0), (31.83, -7.65), (31.87, -8.4),
    (31.91, -8.1), (31.95, -8.9), (31.99, -8.5), (32.03, -9.2), (32.07, -8.8), (32.11, -9.3), (32.16, -9.6),
    (32.21, -9.9), (32.27, -10.5),
    (32.62, -10.5), (32.67, -9.4), (32.71, -8.8), (32.75, -8.3), (32.79, -8.8), (32.83, -7.3), (32.87, -8.1),
    (32.91, -7.8), (32.95, -8.7), (32.99, -8.2), (33.03, -9.0), (33.07, -8.6), (33.11, -9.2), (33.16, -9.5),
    (33.21, -9.9), (33.27, -10.5),
    (33.62, -10.5), (33.67, -9.6), (33.71, -9.1), (33.75, -8.8), (33.79, -9.2), (33.83, -8.2), (33.87, -8.8),
    (33.91, -8.6), (33.95, -9.2), (33.99, -8.9), (34.03, -9.4), (34.07, -9.1), (34.11, -9.5), (34.16, -9.7),
    (34.21, -9.9), (34.27, -10.5),
    (34.62, -10.5), (34.67, -9.8), (34.71, -9.4), (34.75, -9.2), (34.79, -9.5), (34.83, -8.75), (34.87, -9.2),
    (34.91, -9.0), (34.95, -9.5), (34.99, -9.2), (35.03, -9.6), (35.07, -9.4), (35.11, -9.7), (35.16, -9.8),
    (35.21, -9.95), (35.27, -10.5),
    (35.62, -10.5), (35.67, -9.6), (35.71, -9.1), (35.75, -8.7), (35.79, -9.1), (35.83, -8.04), (35.87, -8.7),
    (35.91, -8.4), (35.95, -9.1), (35.99, -8.8), (36.03, -9.4), (36.07, -9.1), (36.11, -9.5), (36.16, -9.7),
    (36.21, -9.9), (36.27, -10.5),
]

# ---------------- styling ----------------
SERIF = "Liberation Serif"
INK = "#1a1a1a"


def make_panel(width, height, mb, xr, yr, yticks, right_outline):
    p = figure(width=width, height=height, x_range=Range1d(*xr), y_range=Range1d(*yr),
               output_backend="svg", toolbar_location=None,
               min_border_left=mb[0], min_border_right=mb[1], min_border_top=mb[2], min_border_bottom=mb[3])
    p.grid.visible = False
    p.background_fill_color = "white"
    p.border_fill_color = "white"
    p.outline_line_color = INK if right_outline else None
    p.outline_line_width = 1.2
    p.xaxis.ticker = FixedTicker(ticks=X_TICKS)
    p.yaxis.ticker = FixedTicker(ticks=yticks)
    p.yaxis.formatter = CustomJSTickFormatter(code="return String(tick);")
    for ax in (p.xaxis[0], p.yaxis[0]):
        ax.major_tick_in = 7
        ax.major_tick_out = 0
        ax.minor_tick_line_color = None
        ax.axis_line_color = INK
        ax.axis_line_width = 1.2
        ax.major_tick_line_color = INK
        ax.major_tick_line_width = 1.0
        ax.major_label_text_font = SERIF
        ax.major_label_text_font_size = "16px"
        ax.major_label_text_color = INK
    p.xaxis.major_label_standoff = 7
    p.yaxis.major_label_standoff = 7
    # top frame line and inward mirror ticks
    p.add_layout(Span(location=yr[1], dimension="width", line_color=INK, line_width=1.2))
    p.scatter(X_TICKS, [yr[1]] * len(X_TICKS), marker="dash", size=14, angle=math.pi / 2,
              line_color=INK, line_width=1.0)
    return p


def label_fig(width, height):
    f = figure(width=width, height=height, x_range=Range1d(0, width), y_range=Range1d(0, height),
               output_backend="svg", toolbar_location=None, min_border=0,
               x_axis_location=None, y_axis_location=None)
    f.grid.visible = False
    f.outline_line_color = None
    f.background_fill_color = "white"
    f.border_fill_color = "white"
    return f


def txt(p, s, x, y, size="21px", angle=0.0):
    p.add_layout(Label(x=x, y=y, x_units="screen", y_units="screen", text=s, angle=angle,
                       text_font=SERIF, text_font_size=size, text_color="black",
                       text_align="left", text_baseline="alphabetic"))


def ylabel(f, sx, sy0, comp):
    # rotated label  log10 A_comp (omega / omega_l)
    a = math.pi / 2
    pieces = [("log", 0, 28.1, "22px"), ("10", 6, 17.0, "17px"), ("A", 0, 15.9, "22px"),
              (comp, 6, 7.5, "17px"), ("(ω/ω", 0, 43.8, "22px"), ("l", 6, 4.7, "17px"), (")", 0, 7.3, "22px")]
    pos = sy0
    for s, dx, w, fs in pieces:
        txt(f, s, sx + dx, pos, size=fs, angle=a)
        pos += w


def xlabel(f, sx, sy):
    txt(f, "Harmonic", sx, sy, size="22px")
    txt(f, "order", sx + 103, sy, size="22px")
    txt(f, "(ω/ω", sx + 160, sy, size="22px")
    txt(f, "l", sx + 203.5, sy - 7, size="17px")
    txt(f, ")", sx + 208, sy, size="22px")


# row 1 (y 0..340)
ya = label_fig(50, 340)
pa = make_panel(530, 340, (33, 39, 6, 29), (0, 36.5), (-12, 3.1), Y_TICKS_A, True)
yc = label_fig(92, 340)
pc = make_panel(486, 340, (31, 0, 6, 29), (0, 36.2), (-8.95, 3.05), Y_TICKS_C, False)
# row 2 (y 340..666)
yb = label_fig(50, 326)
pb = make_panel(530, 326, (33, 39, 33, 27), (0, 36.5), (-12, -2.95), Y_TICKS_B, True)
yd = label_fig(92, 326)
pd = make_panel(486, 326, (31, 0, 33, 27), (0, 36.2), (-10, 1.05), Y_TICKS_D, False)
# row 3 (y 666..696)
xb = label_fig(580, 30)
xd = label_fig(578, 30)

for p, data, col in ((pa, pp_Az, "#ff0000"), (pb, pp_Arho, "#ff00ff"),
                     (pc, pd_Az, "#0000ff"), (pd, pd_Arho, "#8a2be2")):
    xs = [d[0] for d in data]
    ys = [d[1] for d in data]
    p.line(xs, ys, line_color=col, line_width=1.8)

# in-frame annotations
txt(pa, "ppμ", 202, 286); txt(pa, "(a)", 422, 286); txt(pa, "Fixed R", 374, 238)
txt(pb, "ppμ", 202, 248); txt(pb, "(b)", 422, 248); txt(pb, "Fixed R", 374, 201)
txt(pc, "pdμ", 201, 282); txt(pc, "(c)", 421, 282); txt(pc, "Fixed R", 373, 223)
txt(pd, "pdμ", 201, 244); txt(pd, "(d)", 421, 244); txt(pd, "Fixed R", 373, 201)

ylabel(ya, 20, 97, "z")
ylabel(yc, 60, 97, "z")
ylabel(yb, 20, 76, "ρ")
ylabel(yd, 60, 78, "ρ")

xlabel(xb, 207, 17)
xlabel(xd, 243, 17)

layout = column(row(ya, pa, yc, pc, spacing=0),
                row(yb, pb, yd, pd, spacing=0),
                row(xb, xd, spacing=0), spacing=0)
open("out.html", "w").write(file_html(layout, INLINE))
